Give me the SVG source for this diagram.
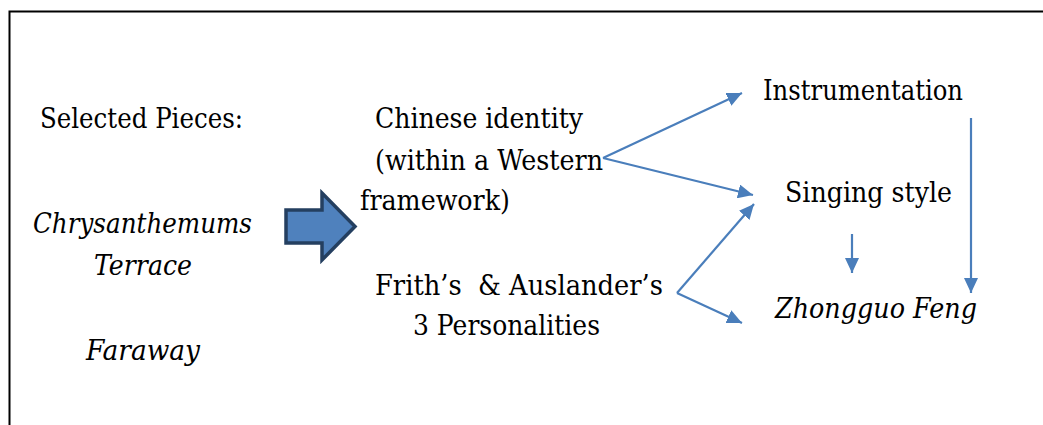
<svg xmlns="http://www.w3.org/2000/svg" width="1043" height="425" viewBox="0 0 1043 425">
  <style>
    .t { font-family: "DejaVu Serif", "Liberation Serif", serif; font-size: 28px; fill: #000; }
    .i { font-style: italic; }
    .c { fill: none; stroke: #4A7EBB; stroke-width: 2.2; marker-end: url(#ah); }
  </style>
  <defs>
    <marker id="ah" markerUnits="userSpaceOnUse" markerWidth="16" markerHeight="14" refX="15" refY="7" orient="auto">
      <path d="M0,0 L15,7 L0,14 z" fill="#4A7EBB"/>
    </marker>
  </defs>
  <rect width="1043" height="425" fill="#fff"/>
  <path id="frame" d="M9.5,425 V11.5 H1043" fill="none" stroke="#000" stroke-width="2"/>
  <g id="selected">
    <text class="t" x="40" y="128" textLength="203" lengthAdjust="spacingAndGlyphs">Selected Pieces:</text>
    <text class="t i" x="33" y="233" textLength="219" lengthAdjust="spacingAndGlyphs">Chrysanthemums</text>
    <text class="t i" x="94" y="275" textLength="98" lengthAdjust="spacingAndGlyphs">Terrace</text>
    <text class="t i" x="86" y="360" textLength="114" lengthAdjust="spacingAndGlyphs">Faraway</text>
  </g>
  <g id="block-arrow">
    <path d="M286,210 H322 V193 L355,226.5 L322,260 V243 H286 Z" fill="#4F81BD" stroke="#243F60" stroke-width="3.5" stroke-linejoin="miter"/>
  </g>
  <g id="chinese-identity">
    <text class="t" x="375" y="128" textLength="208" lengthAdjust="spacingAndGlyphs">Chinese identity</text>
    <text class="t" x="375" y="170" textLength="228" lengthAdjust="spacingAndGlyphs">(within a Western</text>
    <text class="t" x="360" y="210" textLength="150" lengthAdjust="spacingAndGlyphs">framework)</text>
  </g>
  <g id="personalities">
    <text class="t" x="375" y="295" xml:space="preserve" textLength="288" lengthAdjust="spacingAndGlyphs">Frith’s  &amp; Auslander’s</text>
    <text class="t" x="413" y="335" textLength="187" lengthAdjust="spacingAndGlyphs">3 Personalities</text>
  </g>
  <g id="instrumentation">
    <text class="t" x="763" y="100" textLength="200" lengthAdjust="spacingAndGlyphs">Instrumentation</text>
  </g>
  <g id="singing-style">
    <text class="t" x="785" y="202" textLength="167" lengthAdjust="spacingAndGlyphs">Singing style</text>
  </g>
  <g id="zhongguo-feng">
    <text class="t i" x="775" y="318" textLength="202" lengthAdjust="spacingAndGlyphs">Zhongguo Feng</text>
  </g>
  <g id="connectors">
    <path class="c" d="M603,158 L742,93"/>
    <path class="c" d="M603,158 L753,195"/>
    <path class="c" d="M677,293 L754,204"/>
    <path class="c" d="M677,293 L742,323"/>
    <path class="c" d="M852,234 V273"/>
    <path class="c" d="M971,118 V293"/>
  </g>
</svg>
